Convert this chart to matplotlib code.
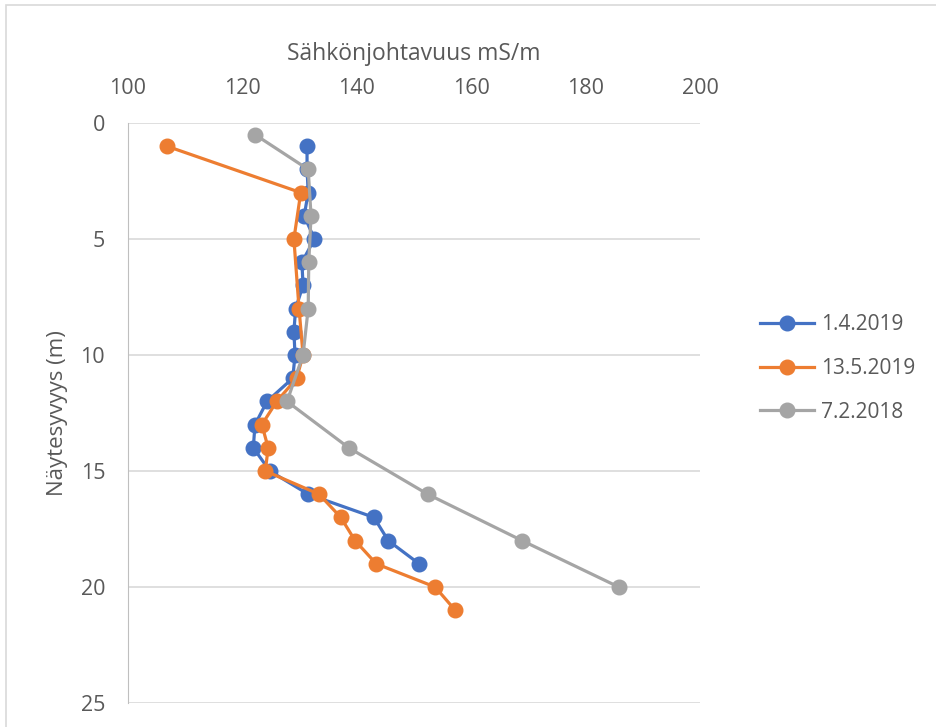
import matplotlib.pyplot as plt
from matplotlib.patches import Rectangle

plt.rcParams['font.family'] = ['Open Sans', 'DejaVu Sans']

# 1.4.2019
depth_a = [1, 2, 3, 4, 5, 6, 7, 8, 9, 10, 11, 12, 13, 14, 15, 16, 17, 18, 19]
cond_a = [131.3, 131.3, 131.5, 130.8, 132.6, 130.4, 130.6, 129.3, 129.0, 129.2, 128.8,
          124.3, 122.2, 121.9, 124.8, 131.5, 143.0, 145.5, 150.9]

# 13.5.2019
depth_b = [1, 3, 5, 8, 10, 11, 12, 13, 14, 15, 16, 17, 18, 19, 20, 21]
cond_b = [106.8, 130.2, 129.0, 129.9, 130.6, 129.5, 126.0, 123.4, 124.5, 124.0,
          133.4, 137.2, 139.7, 143.4, 153.7, 157.2]

# 7.2.2018
depth_c = [0.5, 2, 4, 6, 8, 10, 12, 14, 16, 18, 20]
cond_c = [122.2, 131.5, 132.0, 131.6, 131.5, 130.6, 127.8, 138.6, 152.4, 168.9, 185.8]

labels = ["1.4.2019", "13.5.2019", "7.2.2018"]
colors = ["#4472C4", "#ED7D31", "#A5A5A5"]
txt = "#595959"

fig = plt.figure(figsize=(9.36, 7.27), dpi=100)
fig.patches.append(Rectangle((0.006, -0.01), 1.2, 1.003, transform=fig.transFigure,
                             fill=False, edgecolor="#d9d9d9", linewidth=1.2))
ax = fig.add_axes([0.1368, 0.033, 0.611, 0.7978])

for d, c, lab, col in zip([depth_a, depth_b, depth_c], [cond_a, cond_b, cond_c], labels, colors):
    ax.plot(c, d, color=col, linewidth=2.3, marker="o", markersize=10.5, label=lab)

ax.set_xlim(100, 200)
ax.set_ylim(25, 0)
ax.set_xticks(range(100, 201, 20))
ax.set_yticks(range(0, 26, 5))
ax.xaxis.tick_top()
ax.xaxis.set_label_position("top")
ax.set_xlabel("Sähkönjohtavuus mS/m", fontsize=16.5, color=txt, labelpad=13)
ax.set_ylabel("Näytesyvyys (m)", fontsize=16, color=txt, labelpad=9)
ax.tick_params(axis="both", length=0, labelsize=15.5, colors=txt)
ax.tick_params(axis="x", pad=17)
ax.tick_params(axis="y", pad=16.5)
ax.grid(axis="y", color="#d9d9d9", linewidth=1.2)
for s in ["top", "right", "bottom"]:
    ax.spines[s].set_visible(False)
ax.spines["left"].set_color("#bfbfbf")

ax.legend(loc="center left", bbox_to_anchor=(1.072, 0.577), frameon=False, fontsize=15,
          labelcolor=txt, handlelength=2.6, handletextpad=0.35, labelspacing=1.1)

fig.savefig("out.png", dpi=100)
